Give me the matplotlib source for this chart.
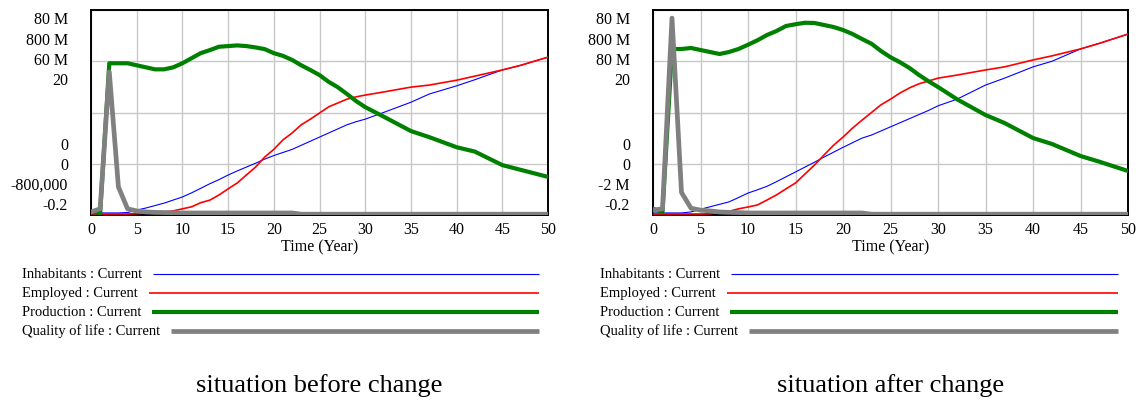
import matplotlib
matplotlib.use("Agg")
import matplotlib.pyplot as plt
from matplotlib.lines import Line2D

plt.rcParams["font.family"] = ["Liberation Serif", "DejaVu Serif"]

W, H = 1140, 405

years = [0, 1, 2, 3, 4, 5, 6, 7, 8, 9, 10, 11, 12, 13, 14, 15, 16, 17, 18, 19,
         20, 21, 22, 23, 24, 25, 26, 27, 28, 29, 30, 32, 35, 37, 40, 42, 45, 47, 50]

series_names = ["Inhabitants", "Employed", "Production", "Quality of life"]
series_colors = ["#0000ff", "#ff0000", "#008000", "#808080"]
series_widths = [0.8, 1.2, 3.0, 3.4]

# situation before change (people / units in millions, quality as index)
inhab_before = [0.8, 0.8, 0.8, 0.8, 0.96, 1.92, 2.72, 3.68, 4.64, 5.84, 7.04, 8.64, 10.4, 12.2,
                13.8, 15.6, 17.2, 18.7, 20.2, 21.8, 23.2, 24.4, 25.6, 27.2, 28.8, 30.4, 32.0,
                33.6, 35.2, 36.4, 37.4, 40.0, 44.0, 47.2, 50.4, 52.8, 56.6, 58.4, 61.6]
employed_before = [4, 4, 4, 4, 4, 5.6, 8, 9.6, 12, 16, 24, 32, 48, 58, 78, 102, 125, 156, 187,
                   226, 256, 293, 320, 352, 374, 398, 422, 437, 452, 461, 468, 480, 499, 507,
                   526, 542, 566, 584, 616]
production_before = [0.11, -0.19, 44.2, 44.2, 44.2, 43.6, 43.0, 42.4, 42.4, 43.0, 44.2, 45.7,
                     47.2, 48.1, 49.1, 49.3, 49.5, 49.3, 48.9, 48.4, 47.2, 46.4, 45.2, 43.6,
                     42.2, 40.7, 38.7, 37.1, 35.1, 33.0, 31.2, 28.4, 24.1, 22.3, 19.3, 18.0,
                     14.0, 12.6, 10.5]
quality_before = [0.10, 0.41, 13.9, 2.57, 0.41, 0.20, 0.10, 0.06, 0.04, 0.02, 0.0, 0.0, 0.0,
                  0.0, 0.0, 0.0, 0.0, 0.0, 0.0, 0.0, 0.0, 0.0, 0.0, -0.12, -0.12, -0.12, -0.12,
                  -0.12, -0.12, -0.12, -0.12, -0.12, -0.12, -0.12, -0.12, -0.12, -0.12, -0.12,
                  -0.12]
limits_before = [(0, 80), (0, 800), (-0.8, 60), (-0.2, 20)]
top_labels_before = ["80 M", "800 M", "60 M", "20"]
bottom_labels_before = ["0", "0", "-800,000", "-0.2"]

# situation after change
inhab_after = [0.8, 0.8, 0.8, 0.8, 1.2, 2.24, 3.2, 4.16, 5.12, 6.8, 8.56, 9.84, 11.2, 13.0,
               14.9, 16.8, 18.7, 20.6, 22.6, 24.5, 26.4, 28.2, 30.0, 31.2, 32.8, 34.4, 36.0,
               37.6, 39.2, 40.8, 42.6, 45.2, 50.7, 53.4, 57.8, 60.0, 64.8, 67.0, 70.6]
employed_after = [4, 4, 4, 4, 4, 4, 4.8, 12, 14.4, 24, 31.2, 39.2, 58.4, 78.4, 102, 125, 160,
                  195, 234, 272, 304, 339, 370, 400, 430, 452, 476, 496, 512, 523, 534, 546,
                  566, 578, 605, 621, 648, 670, 706]
production_after = [0.46, -0.77, 64.4, 64.4, 64.8, 64.0, 63.2, 62.4, 63.2, 64.4, 66.1, 67.9,
                    70.0, 71.6, 73.6, 74.3, 74.9, 74.8, 74.0, 73.2, 72.0, 70.4, 68.4, 66.5,
                    63.6, 61.1, 59.1, 56.8, 54.0, 51.5, 49.2, 44.3, 38.0, 34.8, 28.8, 26.4,
                    21.6, 19.3, 15.6]
quality_after = [0.28, 0.41, 19.2, 2.02, 0.47, 0.28, 0.2, 0.1, 0.06, 0.04, 0.0, 0.0, 0.0, 0.0,
                 0.0, 0.0, 0.0, 0.0, 0.0, 0.0, 0.0, 0.0, 0.0, -0.12, -0.12, -0.12, -0.12,
                 -0.12, -0.12, -0.12, -0.12, -0.12, -0.12, -0.12, -0.12, -0.12, -0.12, -0.12,
                 -0.12]
limits_after = [(0, 80), (0, 800), (-2, 80), (-0.2, 20)]
top_labels_after = ["80 M", "800 M", "80 M", "20"]
bottom_labels_after = ["0", "0", "-2 M", "-0.2"]

x_ticks = [0, 5, 10, 15, 20, 25, 30, 35, 40, 45, 50]

fig = plt.figure(figsize=(W / 100, H / 100), dpi=100)
renderer = fig.canvas.get_renderer()


def draw_panel(left, right, series, limits, tops, bottoms, legend_x, legend_end, caption):
    ax = fig.add_axes([left / W, (H - 215) / H, (right - left) / W, 205 / H])
    ax.set_xlim(0, 50)
    lo, hi = limits[0]
    ax.set_ylim(lo, hi)
    ax.set_yticks([lo + (hi - lo) * k / 4 for k in range(5)])
    ax.set_yticklabels([])
    ax.set_xticks(x_ticks)
    ax.tick_params(axis="both", length=0, labelsize=11.5, pad=5)
    ax.grid(True, color="#c8c8c8", linewidth=1.0)
    ax.set_axisbelow(True)
    for sp in ax.spines.values():
        sp.set_linewidth(1.4)
        sp.set_color("black")
    ax.set_xlabel("Time (Year)", fontsize=11.5, labelpad=1)

    for i, values in enumerate(series):
        target = ax if i == 0 else ax.twinx()
        if i > 0:
            target.set_ylim(*limits[i])
            target.axis("off")
        target.plot(years, values, color=series_colors[i], linewidth=series_widths[i],
                    solid_joinstyle="round")

    # Vensim-style stacked scale labels: maxima at the top, minima at the bottom
    for k, lab in enumerate(tops):
        ax.annotate(lab, xy=(0, 1), xycoords="axes fraction", xytext=(-23, -10.5 - 20.3 * k),
                    textcoords="offset pixels", ha="right", va="center", fontsize=11.5)
    for k, lab in enumerate(bottoms):
        ax.annotate(lab, xy=(0, 0), xycoords="axes fraction", xytext=(-23, 9 + 20 * (3 - k)),
                    textcoords="offset pixels", ha="right", va="center", fontsize=11.5)

    rows = [274, 293, 312, 331]
    for i, name in enumerate(series_names):
        y = 1 - rows[i] / H
        t = fig.text(legend_x / W, y, f"{name} : Current", ha="left", va="center", fontsize=10.5)
        bb = t.get_window_extent(renderer=renderer)
        x0 = (bb.x1 + 11) / W
        fig.add_artist(Line2D([x0, legend_end / W], [y, y], color=series_colors[i],
                              linewidth=series_widths[i], solid_capstyle="butt"))

    fig.text((left + right) / 2 / W, 1 - 386 / H, caption, ha="center", va="center", fontsize=19)


draw_panel(91, 548,
           [inhab_before, employed_before, production_before, quality_before],
           limits_before, top_labels_before, bottom_labels_before, 22, 539,
           "situation before change")
draw_panel(653, 1128,
           [inhab_after, employed_after, production_after, quality_after],
           limits_after, top_labels_after, bottom_labels_after, 600, 1118,
           "situation after change")

fig.savefig("out.png", dpi=100)
